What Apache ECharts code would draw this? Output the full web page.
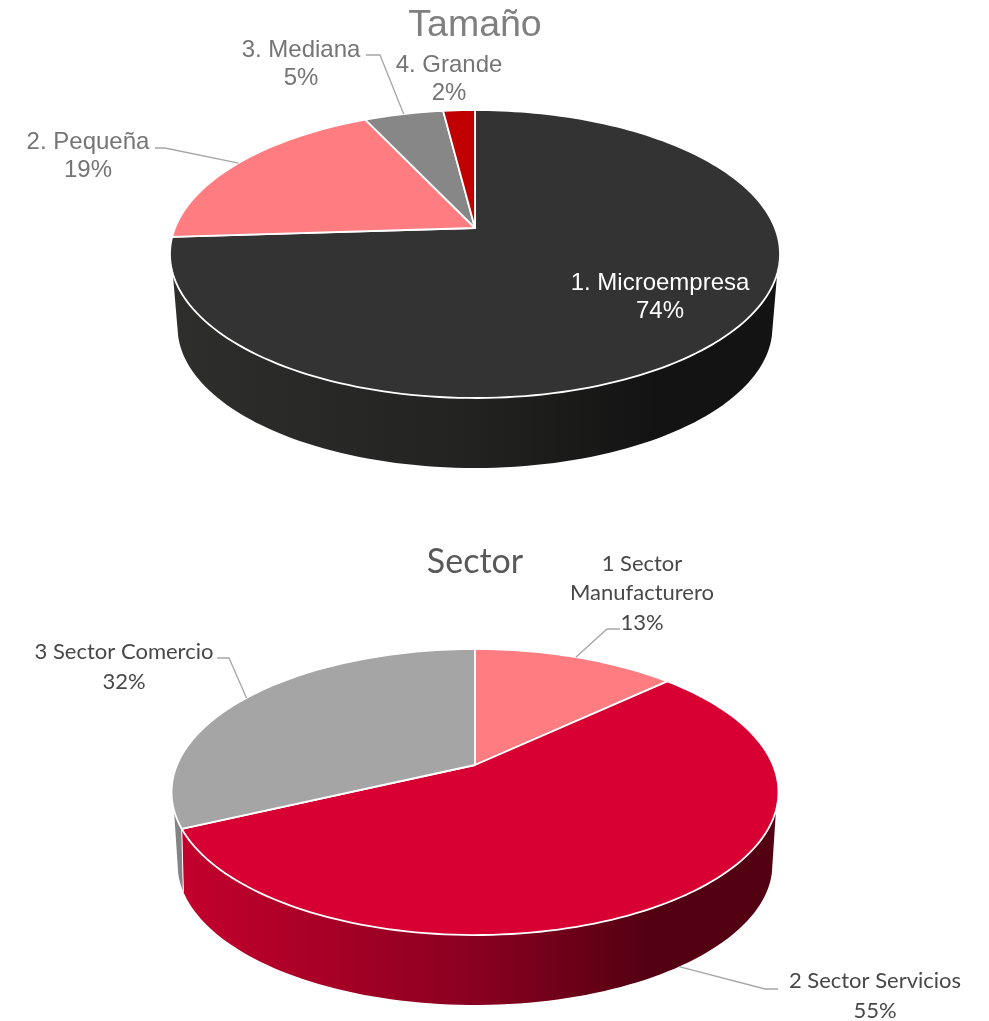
<!DOCTYPE html>
<html lang="es">
<head>
	<meta charset="UTF-8">
	<title>Tamaño y Sector</title>
	<style>
		html, body { margin: 0; padding: 0; background: #fff; }
		#main { width: 989px; height: 1021px; }
	</style>
	<script src="https://cdn.jsdelivr.net/npm/echarts@6/dist/echarts.min.js"></script>
</head>
<body>
	<div id="main"></div>
	<script>
		// data
		var tamanoNames = ['1. Microempresa', '2. Pequeña', '3. Mediana', '4. Grande'];
		var tamanoValues = [74, 19, 5, 2];
		var sectorNames = ['1 Sector\nManufacturero', '2 Sector Servicios', '3 Sector Comercio'];
		var sectorValues = [13, 55, 32];

		// colours
		var tamanoColors = ['#333333', '#ff7c80', '#878787', '#c00000'];
		var tamanoWalls = [['#2e2e2c', '#222221', '#131313'], ['#d96a6d', '#d96a6d', '#d96a6d'], ['#737373', '#737373', '#737373'], ['#a30000', '#a30000', '#a30000']];
		var sectorColors = ['#ff7c80', '#d80032', '#a5a5a5'];
		var sectorWalls = [['#c4002d', '#c4002d', '#c4002d'], ['#c4002d', '#8a0020', '#520012'], ['#848484', '#848484', '#848484']];

		// perspective disc: top face, bottom face, visible wall range in degrees
		var tamanoDisc = {
			cx: 475, font: 'Liberation Sans', size: 24, lineHeight: 28, textColor: '#757575',
			top: {cy: 228, r: 300, s: 139.3, k: 0.1806},
			bottom: {cy: 292, r: 288, s: 132, k: 0.25},
			wallFrom: 108, wallTo: 252
		};
		var sectorDisc = {
			cx: 475, font: 'Lato', size: 22, lineHeight: 29.5, textColor: '#484848',
			top: {cy: 765, r: 298, s: 137.9, k: 0.189},
			bottom: {cy: 829, r: 288, s: 132, k: 0.25},
			wallFrom: 108, wallTo: 252
		};

		// label spot (centre of the text block) and leader elbow, per slice
		var tamanoLabels = [
			{x: 660, y: 297, color: '#ffffff'},
			{x: 88, y: 156, line: [[155, 148], [165, 148]]},
			{x: 301, y: 64, line: [[366, 55], [380, 55]]},
			{x: 449, y: 79}
		];
		var sectorLabels = [
			{x: 642, y: 593, line: [[620, 629], [607, 629]]},
			{x: 875, y: 996, line: [[778, 989], [765, 989]], onBottom: true},
			{x: 124, y: 667, line: [[217, 658], [229, 658]]}
		];

		function project(face, cx, deg){
			var a = deg * Math.PI / 180;
			var u = Math.sin(a), v = Math.cos(a), w = 1 + face.k * v;
			return [cx + face.r * u / w, face.cy - face.s * v / w];
		}

		function arcPoints(face, cx, from, to){
			var pts = [];
			var n = Math.max(2, Math.ceil(Math.abs(to - from) / 1.5));
			for(var i = 0; i <= n; i++){
				pts.push(project(face, cx, from + (to - from) * i / n));
			}
			return pts;
		}

		function sliceAngles(values, i){
			var total = values.reduce(function(a, b){ return a + b; }, 0);
			var before = 0;
			for(var j = 0; j < i; j++){ before += values[j]; }
			return [before / total * 360, (before + values[i]) / total * 360];
		}

		// side wall of the disc, only the part that faces us
		function wallItem(values, disc, walls){
			return function(params, api){
				var i = params.dataIndex;
				var ang = sliceAngles(values, i);
				var from = Math.max(ang[0], disc.wallFrom);
				var to = Math.min(ang[1], disc.wallTo);
				if(to <= from){ return {type: 'group', children: []}; }
				var upper = arcPoints(disc.top, disc.cx, from, to);
				var lower = arcPoints(disc.bottom, disc.cx, to, from);
				var x0 = disc.cx - disc.top.r, x1 = disc.cx + disc.top.r;
				var fill = new echarts.graphic.LinearGradient(x0, 0, x1, 0, [
					{offset: 0, color: walls[i][0]},
					{offset: 0.5, color: walls[i][1]},
					{offset: 0.8, color: walls[i][2]},
					{offset: 1, color: walls[i][2]}
				], true);
				var children = [{
					type: 'polygon',
					shape: {points: upper.concat(lower)},
					style: {fill: fill}
				}];
				if(ang[0] > disc.wallFrom && ang[0] < disc.wallTo){
					children.push({
						type: 'polyline',
						shape: {points: [project(disc.top, disc.cx, ang[0]), project(disc.bottom, disc.cx, ang[0])]},
						style: {stroke: '#ffffff', lineWidth: 1, fill: null}
					});
				}
				return {type: 'group', children: children};
			};
		}

		// top face, leader line and label of one slice
		function topItem(values, names, disc, colors, labels){
			return function(params, api){
				var i = params.dataIndex;
				var ang = sliceAngles(values, i);
				var apex = [disc.cx, disc.top.cy];
				var lab = labels[i];
				var children = [{
					type: 'polygon',
					shape: {points: [apex].concat(arcPoints(disc.top, disc.cx, ang[0], ang[1]))},
					style: {fill: colors[i], stroke: '#ffffff', lineWidth: 1.8, lineJoin: 'round'}
				}];
				if(lab.line){
					var mid = (ang[0] + ang[1]) / 2;
					var end = project(lab.onBottom ? disc.bottom : disc.top, disc.cx, mid);
					children.push({
						type: 'polyline',
						shape: {points: lab.line.concat([end])},
						style: {stroke: '#a6a6a6', lineWidth: 1.3, fill: null}
					});
				}
				children.push({
					type: 'text',
					x: lab.x,
					y: lab.y,
					z2: 10,
					style: {
						text: names[i] + '\n' + api.value(0) + '%',
						fill: lab.color || disc.textColor,
						font: disc.size + 'px "' + disc.font + '"',
						lineHeight: disc.lineHeight,
						align: 'center',
						verticalAlign: 'middle'
					}
				});
				return {type: 'group', children: children};
			};
		}

		function asData(values){
			return values.map(function(v){ return [v]; });
		}

		function pieSeries(values, names, disc, colors, walls, labels){
			return [{
				type: 'custom',
				coordinateSystem: 'none',
				silent: true,
				z: 1,
				renderItem: wallItem(values, disc, walls),
				data: asData(values)
			}, {
				type: 'custom',
				coordinateSystem: 'none',
				silent: true,
				z: 2,
				renderItem: topItem(values, names, disc, colors, labels),
				data: asData(values)
			}];
		}

		var myChart = echarts.init(document.getElementById('main'));
		myChart.setOption({
			animation: false,
			backgroundColor: '#ffffff',
			title: [{
				text: 'Tamaño',
				left: 470,
				top: 2,
				textAlign: 'center',
				textStyle: {fontFamily: 'Liberation Sans', fontSize: 37.5, fontWeight: 'normal', color: '#7f7f7f'}
			}, {
				text: 'Sector',
				left: 470,
				top: 540,
				textAlign: 'center',
				textStyle: {fontFamily: 'Lato', fontSize: 34, fontWeight: 'normal', color: '#595959'}
			}],
			series: pieSeries(tamanoValues, tamanoNames, tamanoDisc, tamanoColors, tamanoWalls, tamanoLabels)
				.concat(pieSeries(sectorValues, sectorNames, sectorDisc, sectorColors, sectorWalls, sectorLabels))
		});
	</script>
</body>
</html>
